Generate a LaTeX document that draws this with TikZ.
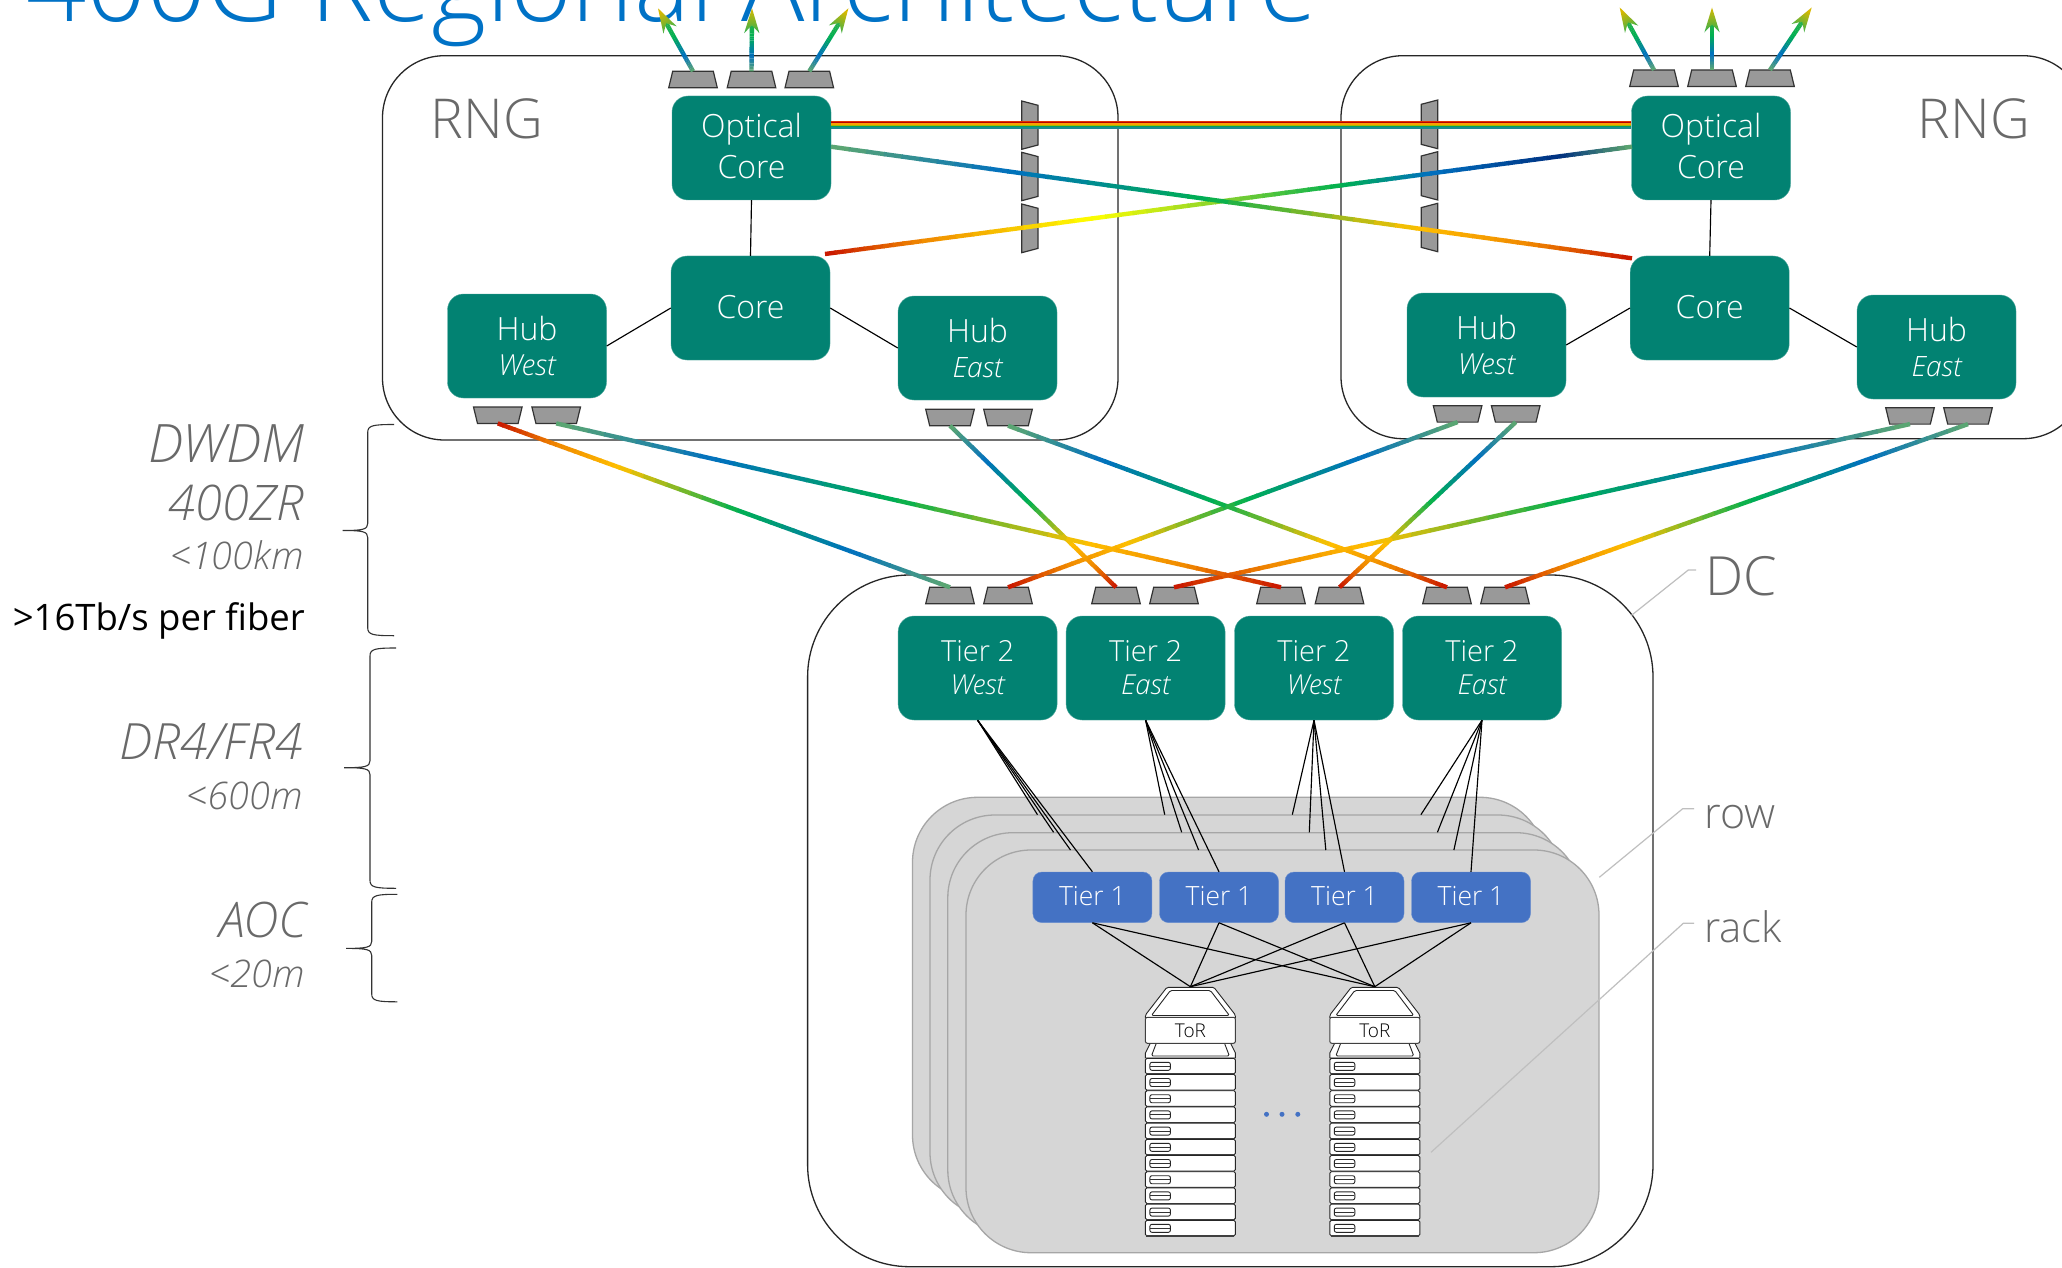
\documentclass[tikz,border=0pt]{standalone}
\usepackage{fontspec}
\usetikzlibrary{calc}
\setmainfont{Open Sans}
\newfontfamily\lightf{Open Sans Light}
\definecolor{teal1}{HTML}{028272}
\definecolor{blue1}{HTML}{4472C4}
\definecolor{titleblue}{HTML}{0072C6}
\definecolor{greytxt}{HTML}{696969}
\definecolor{cardfill}{HTML}{D6D6D6}
\definecolor{cardline}{HTML}{A6A6A6}
\definecolor{portfill}{HTML}{999999}
\definecolor{fsage}{HTML}{5FA86F}
\definecolor{fblue}{HTML}{0070C0}
\definecolor{fdark}{HTML}{003080}
\definecolor{fgreen}{HTML}{00B050}
\definecolor{flime}{HTML}{80D030}
\definecolor{fyellow}{HTML}{FFFF00}
\definecolor{fgold}{HTML}{FFC000}
\definecolor{forange}{HTML}{F08800}
\definecolor{fred}{HTML}{C81400}
\definecolor{ftipg}{HTML}{30B050}
\definecolor{ftipy}{HTML}{D8B800}
\newcommand\fsz[1]{\fontsize{#1}{#1}\selectfont}
\newcommand\lineat[2]{\makebox[0pt]{\smash{\raisebox{#1pt}{#2}}}}
\def\stA{0/fsage/.22/fblue,.22/fblue/.47/fgreen,.47/fgreen/.73/fgold,.73/fgold/.87/forange,.87/forange/1/fred}
\def\stB{0/fred/.12/forange,.12/forange/.33/fyellow,.33/fyellow/.5/flime,.5/flime/.64/fgreen,.64/fgreen/.75/fblue,.75/fblue/.91/fdark,.91/fdark/1/fsage}
\def\stC{0/fsage/.25/fblue,.25/fblue/.55/fgreen,.55/fgreen/.8/ftipg}
\newcommand\gradline[3]{%
  \foreach \ta/\ca/\tb/\cb in #3 {%
    \foreach \i in {1,...,10} {%
      \pgfmathsetmacro\fa{\ta+(\tb-\ta)*(\i-1)/10}%
      \pgfmathsetmacro\fb{min(\ta+(\tb-\ta)*\i/10+.002,1)}%
      \pgfmathsetmacro\pct{100*(\i-.5)/10}%
      \colorlet{segc}{\cb!\pct!\ca}%
      \draw[fiber,segc] ($(#1)!\fa!(#2)$) -- ($(#1)!\fb!(#2)$);%
    }%
  }%
}
% name, centre x, top y : narrow edge up, attached on top
\newcommand\portn[3]{%
  \coordinate (#1) at (#2,#3);
  \draw[portst] ({#2-20.3},#3) -- ({#2+20.3},#3) -- ({#2+24.3},{#3+16.5}) -- ({#2-24.3},{#3+16.5}) -- cycle;
}
% name, centre x, top y : wide edge up, attached below
\newcommand\portw[3]{%
  \coordinate (#1) at (#2,{#3+16.4});
  \draw[portst] ({#2-24.3},#3) -- ({#2+24.3},#3) -- ({#2+20.3},{#3+16.4}) -- ({#2-20.3},{#3+16.4}) -- cycle;
}
% x narrow, x wide, top of wide edge, bottom of wide edge
\newcommand\blocker[4]{%
  \draw[portst] (#2,#3) -- (#1,{#3+4.3}) -- (#1,{#4-4.3}) -- (#2,#4) -- cycle;
}
% port name, tip name, shading angle
\newcommand\fiberarrow[3]{%
  \gradline{#1}{#2}{\stC}
  \shade[top color=ftipy,middle color=flime!70!ftipg,bottom color=ftipg,shading angle=#3]
    (#2) -- ($(#2)!26pt!17:(#1)$) -- ($(#2)!17pt!(#1)$) -- ($(#2)!26pt!-17:(#1)$) -- cycle;
}
% x right, x vertical, x tip, y top, y mid, y bottom
\newcommand\bracem[6]{%
  \draw[brace line] (#1,#4) .. controls ({#2+5},#4) and (#2,{#4+1}) .. (#2,{#4+8})
    -- (#2,{#5-7}) .. controls (#2,{#5-1}) and ({#2-5},#5) .. (#3,#5)
    .. controls ({#2-5},#5) and (#2,{#5+1}) .. (#2,{#5+7})
    -- (#2,{#6-8}) .. controls (#2,{#6-1}) and ({#2+5},#6) .. (#1,#6);
}
\newcommand\rackstack[2]{%
  \begin{scope}[shift={(#2,0)}]
    \coordinate (#1top) at (0,986.7);
    \draw[rk,fill=white,rounded corners=1.5pt] (-23.5,987.3) -- (23.5,987.3) -- (45,1015) -- (45,1019) -- (-45,1019) -- (-45,1015) -- cycle;
    \draw[rk,rounded corners=1.5pt] (-20,990.5) -- (20,990.5) -- (39,1015.5) -- (-39,1015.5) -- cycle;
    \draw[rk,fill=white] (-40,1043) -- (-45,1053) -- (-45,1058) -- (45,1058) -- (45,1053) -- (40,1043) -- cycle;
    \draw[rk,rounded corners=1.5pt] (-34,1043) -- (-39,1056) -- (39,1056) -- (34,1043);
    \node[torbox] (#1) at (0,1030.3) {\lineat{-7}{\fsz{19}ToR}};
    \foreach \k in {0,...,10} {
      \pgfmathsetmacro\yk{1058.3+16.2*\k}
      \draw[rk,fill=white,rounded corners=1.5pt] (-45,\yk) rectangle (45,{\yk+15.6});
      \draw[line width=1.4pt,black!75] (-44,{\yk+15.8}) -- (44,{\yk+15.8});
      \draw[rk,line width=.9pt,rounded corners=2pt] (-40.5,{\yk+4}) rectangle (-20,{\yk+12});
      \draw[line width=.9pt,black!80] (-40,{\yk+8}) -- (-20.5,{\yk+8});
    }
  \end{scope}
}
\tikzset{
  fiber/.style={line width=4.4pt,line cap=butt},
  box/.style={draw=teal1!70!white,line width=.4pt,fill=teal1,rounded corners=16pt,minimum width=159pt,minimum height=104pt,inner sep=0pt,text=white,font=\lightf},
  tierone/.style={draw=blue1!80!white,line width=.4pt,fill=blue1,rounded corners=9pt,minimum width=119pt,minimum height=50.6pt,inner sep=0pt,text=white,font=\lightf},
  torbox/.style={draw=black!75,line width=1pt,fill=white,rounded corners=2pt,minimum width=90pt,minimum height=26pt,inner sep=0pt,text=black,font=\lightf},
  link/.style={black,line width=1.15pt},
  region/.style={draw=black!85,line width=1.3pt,rounded corners=#1},
  card/.style={draw=cardline,fill=cardfill,line width=1.3pt,rounded corners=65pt},
  portst/.style={draw=black!80,fill=portfill,line width=1.2pt,line join=miter},
  rk/.style={draw=black!85,line width=.9pt},
  brace line/.style={draw=black!80,line width=1.1pt},
  callout/.style={draw=black!25,line width=1.2pt},
  graylabel/.style={anchor=base east,inner sep=0pt,text=greytxt,font=\lightf\itshape},
  sidelabel/.style={anchor=base west,inner sep=0pt,text=greytxt,font=\lightf},
}
\begin{document}
\begin{tikzpicture}[x=1pt,y=-1pt]
\useasboundingbox (0,0) rectangle (2062,1268);
\clip (0,0) rectangle (2062,1268);
\fill[white] (0,0) rectangle (2062,1268);

\node[anchor=base west,inner sep=0pt,text=titleblue,font=\lightf\fsz{105.5}] (title) at (26,21.5) {400G Regional Architecture};

% regions
\draw[region=62pt] (382.5,55.7) rectangle (1118,440);
\draw[region=62pt] (1341,55.7) rectangle (2085,438.7);
\draw[region=102pt] (807.6,575) rectangle (1653,1266.7);

% rows
\draw[card] (912.5,797.3) rectangle (1545,1200);
\draw[card] (930,815) rectangle (1563,1217.5);
\draw[card] (947.8,832.7) rectangle (1581,1235);
\draw[card] (966,850) rectangle (1599,1252.7);

% RNG labels
\node[anchor=base,inner sep=0pt,text=greytxt,font=\lightf\fsz{55}] (rngl) at (487,138.3) {RNG};
\node[anchor=base,inner sep=0pt,text=greytxt,font=\lightf\fsz{55}] (rngr) at (1974,138.3) {RNG};

% routers, left RNG
\node[box] (ocl) at (751.5,148) {\lineat{10}{\fsz{32}Optical}\lineat{-30.5}{\fsz{32}Core}};
\node[box] (corel) at (750.5,308) {\lineat{-10}{\fsz{32}Core}};
\node[box] (hubwl) at (527,346) {\lineat{5.3}{\fsz{32}Hub}\lineat{-29}{\fsz{29}\itshape West}};
\node[box] (hubel) at (977.5,348) {\lineat{6}{\fsz{32}Hub}\lineat{-29}{\fsz{28}\itshape East}};
% routers, right RNG
\node[box] (ocr) at (1711,148) {\lineat{10}{\fsz{32}Optical}\lineat{-30.5}{\fsz{32}Core}};
\node[box] (corer) at (1709.7,308) {\lineat{-10}{\fsz{32}Core}};
\node[box] (hubwr) at (1486.5,345) {\lineat{5.3}{\fsz{32}Hub}\lineat{-29}{\fsz{29}\itshape West}};
\node[box] (huber) at (1936.5,347) {\lineat{6}{\fsz{32}Hub}\lineat{-29}{\fsz{28}\itshape East}};
% tier 2
\node[box] (tta) at (977.6,668) {\lineat{6.3}{\fsz{29}Tier 2}\lineat{-26}{\fsz{27.5}\itshape West}};
\node[box] (ttb) at (1145.6,668) {\lineat{6.3}{\fsz{29}Tier 2}\lineat{-26}{\fsz{27.5}\itshape East}};
\node[box] (ttc) at (1314,668) {\lineat{6.3}{\fsz{29}Tier 2}\lineat{-26}{\fsz{27.5}\itshape West}};
\node[box] (ttd) at (1482,668) {\lineat{6.3}{\fsz{29}Tier 2}\lineat{-26}{\fsz{27.5}\itshape East}};
% tier 1
\node[tierone] (toa) at (1092.4,897.3) {\lineat{-8}{\fsz{26.5}Tier 1}};
\node[tierone] (tob) at (1219,897.3) {\lineat{-8}{\fsz{26.5}Tier 1}};
\node[tierone] (toc) at (1344.5,897.3) {\lineat{-8}{\fsz{26.5}Tier 1}};
\node[tierone] (tod) at (1471,897.3) {\lineat{-8}{\fsz{26.5}Tier 1}};

% links inside RNG
\draw[link] (ocl.south) -- (corel.north);
\draw[link] (corel.west) -- (hubwl.east);
\draw[link] (corel.east) -- (hubel.west);
\draw[link] (ocr.south) -- (corer.north);
\draw[link] (corer.west) -- (hubwr.east);
\draw[link] (corer.east) -- (huber.west);

% tier 2 to rows and tier 1
\foreach \src/\xa/\xb/\xc in {tta/1037.5/1053.6/1070.5,ttb/1164.7/1181.7/1198.6,ttc/1292.3/1309.3/1325.8,ttd/1420.9/1437.4/1453.9} {
  \coordinate (e1) at (\xa,814.7);
  \coordinate (e2) at (\xb,832.3);
  \coordinate (e3) at (\xc,850);
  \draw[link] (\src.south) -- (e1);
  \draw[link] (\src.south) -- (e2);
  \draw[link] (\src.south) -- (e3);
}
\draw[link] (tta.south) -- (toa.north);
\draw[link] (ttb.south) -- (tob.north);
\draw[link] (ttc.south) -- (toc.north);
\draw[link] (ttd.south) -- (tod.north);

% racks
\rackstack{tora}{1190.4}
\rackstack{torb}{1374.8}
\foreach \t in {toa,tob,toc,tod} {
  \draw[link] (\t.south) -- (toratop);
  \draw[link] (\t.south) -- (torbtop);
}
\foreach \xd in {1266.5,1282,1297.8} \fill[blue1] (\xd,1114.3) circle (2.5pt);

% blockers
\blocker{1038}{1021.7}{101}{149.3}
\blocker{1038}{1021.7}{152.3}{200.7}
\blocker{1038}{1021.7}{204}{252.7}
\blocker{1421.3}{1437.7}{100}{148.7}
\blocker{1421.3}{1437.7}{151.7}{200}
\blocker{1421.3}{1437.7}{203.3}{251.7}

% ports
\portn{ola}{693}{71.3}
\portn{olb}{751.5}{71.3}
\portn{olc}{809.3}{71.3}
\portn{ora}{1654}{70}
\portn{orb}{1712}{70}
\portn{orc}{1770}{70}
\portw{hwla}{497.8}{407}
\portw{hwlb}{556.2}{407}
\portw{hela}{950}{409.3}
\portw{helb}{1008}{409.3}
\portw{hwra}{1457.6}{405.7}
\portw{hwrb}{1515.7}{405.7}
\portw{hera}{1910}{407.7}
\portw{herb}{1968}{407.7}
\portn{ta}{950}{587.3}
\portn{tb}{1008}{587.3}
\portn{tc}{1116}{587.3}
\portn{td}{1174}{587.3}
\portn{te}{1281}{587.3}
\portn{tf}{1339.5}{587.3}
\portn{tg}{1447}{587.3}
\portn{th}{1505}{587.3}

% fibres between sites
\gradline{ta}{hwla}{\stA}
\gradline{hwra}{tb}{\stA}
\gradline{hela}{tc}{\stA}
\gradline{hera}{td}{\stA}
\gradline{hwlb}{te}{\stA}
\gradline{hwrb}{tf}{\stA}
\gradline{helb}{tg}{\stA}
\gradline{herb}{th}{\stA}

% fibres between optical cores
\foreach \dy/\cc/\ww in {26.2/E03000/1.5,25.2/B80000/1,24/F8A000/1.5,22.6/A8B800/1.4,21.4/00A060/1,19.9/1A8C90/2.2} {
  \definecolor{bundlec}{HTML}{\cc}
  \draw[bundlec,line width=\ww pt] ([yshift=\dy pt]ocl.east) -- ([yshift=\dy pt]ocr.west);
}
\coordinate (oclp) at (831,146.7);
\coordinate (corerp) at (1632,258.3);
\coordinate (corelp) at (825,254);
\coordinate (ocrp) at (1632,146.7);
\gradline{corelp}{ocrp}{\stB}
\gradline{oclp}{corerp}{\stA}

% outgoing arrows
\coordinate (tipa) at (658,8.3);
\coordinate (tipb) at (752,8.3);
\coordinate (tipc) at (848.4,8.3);
\coordinate (tipd) at (1619.7,7.5);
\coordinate (tipe) at (1712,7.5);
\coordinate (tipf) at (1811.7,7.5);
\fiberarrow{ola}{tipa}{30}
\fiberarrow{olb}{tipb}{0}
\fiberarrow{olc}{tipc}{-32}
\fiberarrow{ora}{tipd}{30}
\fiberarrow{orb}{tipe}{0}
\fiberarrow{orc}{tipf}{-33}

% left labels
\node[graylabel,font=\lightf\itshape\fsz{53}] (ldw) at (305,462) {DWDM};
\node[graylabel,font=\lightf\itshape\fsz{49}] (lzr) at (304,520.6) {400ZR};
\node[graylabel,font=\lightf\itshape\fsz{38}] (lkm) at (304,569.2) {<100km};
\node[anchor=base east,inner sep=0pt,text=black,font=\fsz{36.5}] (lfb) at (305,630) {>16Tb/s per fiber};
\node[graylabel,font=\lightf\itshape\fsz{50}] (ldr) at (303.5,759) {DR4/FR4};
\node[graylabel,font=\lightf\itshape\fsz{38}] (lsm) at (303,809.3) {<600m};
\node[graylabel,font=\lightf\itshape\fsz{49}] (laoc) at (307,937.8) {AOC};
\node[graylabel,font=\lightf\itshape\fsz{38}] (ltw) at (305,987) {<20m};
\bracem{394}{367.7}{342.7}{424.5}{530.5}{635.7}
\bracem{396}{370}{344}{648}{767.7}{888.3}
\bracem{397.3}{371.7}{346}{894.3}{948.4}{1001.8}

% right labels
\node[sidelabel,font=\lightf\fsz{54}] (ldc) at (1705,595) {DC};
\node[sidelabel,font=\lightf\fsz{43}] (lrow) at (1704,828.3) {row};
\node[sidelabel,font=\lightf\fsz{42}] (lrack) at (1704,942.7) {rack};
\coordinate (cda) at (1631,615.7);
\coordinate (cdb) at (1688.3,570);
\coordinate (cdc) at (1696,570);
\coordinate (cra) at (1599.3,877.3);
\coordinate (crb) at (1682.7,808.7);
\coordinate (crc) at (1694,808.7);
\coordinate (cka) at (1431,1152.3);
\coordinate (ckb) at (1683.3,923.3);
\coordinate (ckc) at (1694,923.3);
\draw[callout] (cda) -- (cdb) -- (cdc);
\draw[callout] (cra) -- (crb) -- (crc);
\draw[callout] (cka) -- (ckb) -- (ckc);
\end{tikzpicture}
\end{document}
